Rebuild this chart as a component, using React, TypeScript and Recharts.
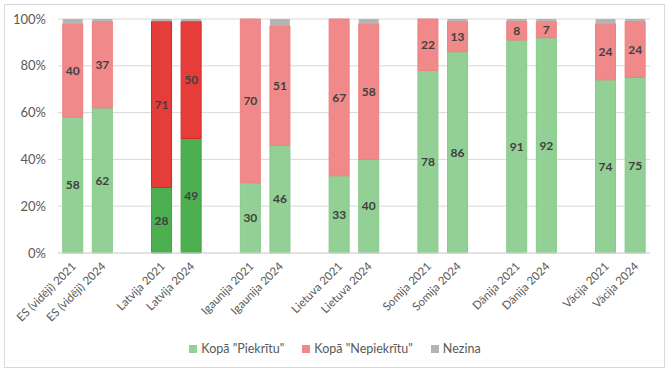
import React from "react";
import {
  BarChart,
  Bar,
  XAxis,
  YAxis,
  CartesianGrid,
  Legend,
  LabelList,
  Cell,
} from "recharts";

// Kategorijas (tukšās vietas starp grupām ir null)
const categories: (string | null)[] = [
  "ES (vidēji) 2021",
  "ES (vidēji) 2024",
  null,
  "Latvija 2021",
  "Latvija 2024",
  null,
  "Igaunija 2021",
  "Igaunija 2024",
  null,
  "Lietuva 2021",
  "Lietuva 2024",
  null,
  "Somija 2021",
  "Somija 2024",
  null,
  "Dānija 2021",
  "Dānija 2024",
  null,
  "Vācija 2021",
  "Vācija 2024",
];

const piekritu: (number | null)[] = [58, 62, null, 28, 49, null, 30, 46, null, 33, 40, null, 78, 86, null, 91, 92, null, 74, 75];
const nepiekritu: (number | null)[] = [40, 37, null, 71, 50, null, 70, 51, null, 67, 58, null, 22, 13, null, 8, 7, null, 24, 24];
const nezina: (number | null)[] = [2, 1, null, 1, 1, null, 0, 3, null, 0, 2, null, 0, 1, null, 1, 1, null, 2, 1];

const seriesNames = ['Kopā "Piekrītu"', 'Kopā "Nepiekrītu"', "Nezina"];

const yTicks = [0, 20, 40, 60, 80, 100];

// Krāsas
const colors = {
  green: "#92D095",
  greenStroke: "#86CB89",
  greenDark: "#4CAF50",
  greenDarkStroke: "#3DA441",
  red: "#F08A8A",
  redStroke: "#EE8080",
  redDark: "#E53E3A",
  redDarkStroke: "#E0201F",
  gray: "#B4B4B4",
  text: "#595959",
  label: "#404040",
  grid: "#D9D9D9",
};

const FONT = "Lato, 'Open Sans', sans-serif";

const data = categories.map((name, i) => ({
  name: name ?? "",
  piekritu: piekritu[i],
  nepiekritu: nepiekritu[i],
  nezina: nezina[i],
  highlight: name ? name.startsWith("Latvija") : false,
}));

const XTick: React.FC<any> = ({ x, y, payload }) => {
  if (!payload?.value) return null;
  return (
    <g transform={`translate(${x + 4},${y + 6})`}>
      <text
        x={0}
        y={0}
        textAnchor="end"
        transform="rotate(-45)"
        fontSize={11.5}
        fontFamily={FONT}
        fill={colors.text}
      >
        {payload.value}
      </text>
    </g>
  );
};

// Leģenda fiksētā secībā
const LegendContent: React.FC = () => {
  const swatches = [colors.green, colors.red, colors.gray];
  return (
    <div style={{ display: "flex", justifyContent: "center", gap: 18, fontSize: 12.5, fontFamily: FONT, color: colors.text }}>
      {seriesNames.map((n, i) => (
        <span key={n} style={{ display: "flex", alignItems: "center" }}>
          <span style={{ width: 8, height: 8, background: swatches[i], marginRight: 4, display: "inline-block" }} />
          {n}
        </span>
      ))}
    </div>
  );
};

const App: React.FC = () => {
  return (
    <div style={{ position: "absolute", left: 0, top: 0, width: 670, height: 374, background: "#fff" }}>
      <div
        style={{
          position: "absolute",
          left: 4,
          top: 4,
          width: 661,
          height: 364,
          border: "1px solid #D9D9D9",
          boxSizing: "border-box",
        }}
      />
      <BarChart
        width={670}
        height={374}
        data={data}
        margin={{ top: 19, right: 20, left: 0, bottom: 13 }}
        barCategoryGap="16%"
        style={{ fontFamily: FONT }}
      >
        <CartesianGrid vertical={false} stroke={colors.grid} />
        <XAxis
          dataKey="name"
          interval={0}
          height={88}
          tickLine={false}
          axisLine={{ stroke: colors.grid }}
          tick={<XTick />}
        />
        <YAxis
          width={58}
          domain={[0, 100]}
          ticks={yTicks}
          tickFormatter={(v: number) => `${v}%`}
          axisLine={false}
          tickLine={false}
          tickMargin={6}
          tick={{ fontSize: 13, fill: colors.text, fontFamily: FONT }}
        />
        <Legend
          verticalAlign="bottom"
          height={20}
          wrapperStyle={{ left: 0, width: 670 }}
          content={<LegendContent />}
        />
        <Bar dataKey="piekritu" name={seriesNames[0]} stackId="a" fill={colors.green} isAnimationActive={false}>
          {data.map((d, i) => (
            <Cell
              key={`g-${i}`}
              fill={d.highlight ? colors.greenDark : colors.green}
              stroke={d.highlight ? colors.greenDarkStroke : colors.greenStroke}
              strokeWidth={1}
            />
          ))}
          <LabelList
            dataKey="piekritu"
            position="center"
            fill={colors.label}
            fontSize={12}
            fontWeight="bold"
            fontFamily={FONT}
          />
        </Bar>
        <Bar dataKey="nepiekritu" name={seriesNames[1]} stackId="a" fill={colors.red} isAnimationActive={false}>
          {data.map((d, i) => (
            <Cell
              key={`r-${i}`}
              fill={d.highlight ? colors.redDark : colors.red}
              stroke={d.highlight ? colors.redDarkStroke : colors.redStroke}
              strokeWidth={1}
            />
          ))}
          <LabelList
            dataKey="nepiekritu"
            position="center"
            fill={colors.label}
            fontSize={12}
            fontWeight="bold"
            fontFamily={FONT}
          />
        </Bar>
        <Bar dataKey="nezina" name={seriesNames[2]} stackId="a" fill={colors.gray} isAnimationActive={false} />
      </BarChart>
    </div>
  );
};

export default App;
